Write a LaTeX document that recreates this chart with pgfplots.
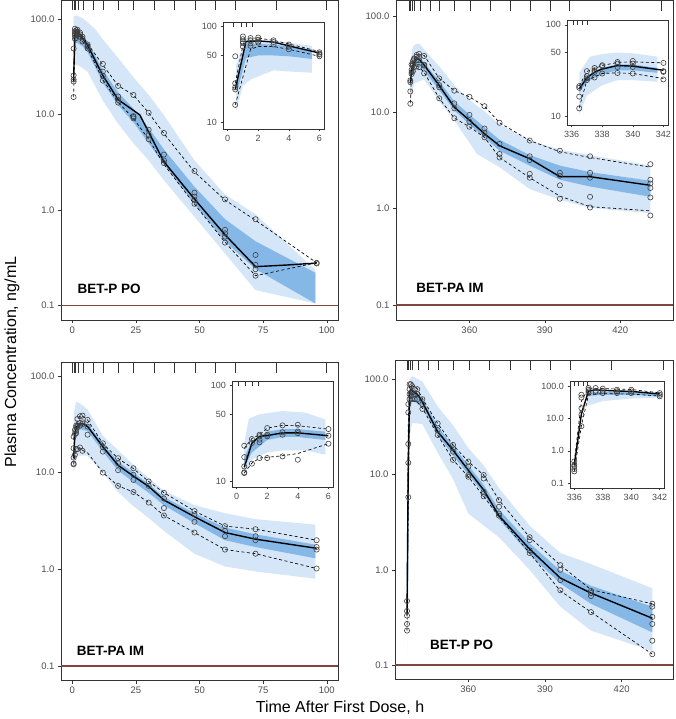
\documentclass[border=0pt]{standalone}
\usepackage{pgfplots}
\pgfplotsset{compat=1.18}
\usepackage{fontspec}
\setmainfont{Liberation Sans}

\definecolor{pilight}{RGB}{212,230,247}
\definecolor{pidark}{RGB}{134,184,231}
\definecolor{lloqc}{RGB}{125,70,62}
\definecolor{frm}{RGB}{51,51,51}
\definecolor{tlab}{RGB}{77,77,77}

\pgfplotsset{
  vpcbase/.style={
    scale only axis, anchor=south west,
    tick pos=left, tick align=outside, major tick length=3pt,
    xminorticks=false, yminorticks=false,
    axis line style={draw=frm, line width=0.7pt},
    tick style={draw=frm, line width=0.6pt},
    axis background/.style={fill=white},
  },
  mainp/.style={vpcbase,
    ytick={0.1,1,10,100}, yticklabels={0.1,1.0,10.0,100.0},
    tick label style={font=\fontsize{9.5}{11}\selectfont, text=tlab}},
  leftp/.style={mainp, xmin=-4.45, xmax=104.4,
    xtick={0,25,50,75,100}, xticklabels={0,25,50,75,100}},
  rightp/.style={mainp, xtick={360,390,420}, xticklabels={360,390,420}},
  insetp/.style={vpcbase, major tick length=2.5pt,
    tick label style={font=\fontsize{9}{10}\selectfont, text=tlab}},
  band1/.style={fill=pilight, draw=none},
  band2/.style={fill=pidark, draw=none},
  med/.style={draw=black, line width=1.4pt},
  pct/.style={draw=black, line width=0.65pt, dash pattern=on 3pt off 2.5pt},
  obs/.style={only marks, mark=o, mark size=2.6pt,
    mark options={draw=black!75, line width=0.6pt}},
  rug/.style={only marks, mark=|, mark size=5pt,
    mark options={draw=frm, line width=0.7pt}},
  rugs/.style={only marks, mark=|, mark size=2.4pt,
    mark options={draw=frm, line width=0.6pt}},
  lloq/.style={draw=lloqc, line width=1.3pt},
}
\tikzset{plab/.style={anchor=base west, font=\bfseries\fontsize{13.5}{15}\selectfont}}

\begin{document}
\begin{tikzpicture}
\useasboundingbox (0,0) rectangle (676pt,719pt);

% ---------------- top left: BET-P PO, first dose
\begin{semilogyaxis}[leftp, at={(61pt,399pt)}, width=277pt, height=319.5pt,
  ymin=0.0705, ymax=156]
\addplot[band1] coordinates {(0.5,108) (2,108) (4,102) (6,92) (9,78) (12,61)
  (18,39) (24,24.5) (30,16) (36,9.8) (48,3.3) (60,1.45) (72,0.9) (95.5,0.235)
  (95.5,0.105) (72,0.145) (60,0.35) (48,0.85) (36,2.05) (30,3.3) (24,5.0)
  (18,8.0) (12,14) (6,28) (3,32) (0.5,34)};
\addplot[band2] coordinates {(0.5,75) (2,76) (4,68) (6,58) (12,29) (18,17)
  (24,11.5) (30,7.2) (36,4.3) (48,1.75) (60,0.8) (72,0.47) (95.5,0.22)
  (95.5,0.105) (72,0.24) (60,0.47) (48,1.15) (36,3.0) (30,5.0) (24,8.3)
  (18,12.5) (12,21.5) (6,45) (4,52) (2,56) (0.5,55)};
\addplot[lloq] coordinates {(-4.45,0.1) (104.4,0.1)};
\addplot[pct] coordinates {(0.5,25.6) (1,78) (2,77) (3,72) (4,66) (6,55) (12,33)
  (18,20) (24,16) (30,10.4) (36,6.3) (48,2.5) (60,1.27) (72,0.78) (96,0.28)};
\addplot[pct] coordinates {(0.5,15.2) (1,62) (1.5,63) (2,68) (3,65) (4,58) (6,49)
  (12,23) (18,13.4) (24,9.1) (30,5.5) (36,3.0) (48,1.15) (60,0.46) (72,0.205)
  (96,0.28)};
\addplot[med] coordinates {(0.5,22) (1,70) (1.5,71) (2,72) (3,69) (4,63) (6,53)
  (12,25.5) (18,14.3) (26.5,9.9) (36,3.2) (48,1.3) (60,0.55) (72,0.255)
  (84,0.265) (96,0.278)};
\addplot[obs] coordinates {
  (0.5,15.2) (0.5,22.1) (0.5,23.2) (0.5,25.6) (0.5,49)
  (1,79) (1,74) (1,70) (1,67) (1,62) (1.5,76) (1.5,72) (1.5,67) (1.5,63)
  (2,77) (2,73) (2,70) (2,68) (3,72) (3,69) (3,65) (4,65) (4,62) (4,58)
  (6,54) (6,51) (6,49) (6,52)
  (12,33.8) (12,28.1) (12,25.3) (12,22.6) (18,19.9) (18,15.4) (18,14.2) (18,13.3)
  (24,16) (24,9.6) (24,9.1) (24,9.4) (30,10.4) (30,6.9) (30,6.1) (30,5.5)
  (36,6.4) (36,3.8) (36,3.3) (36,3.1)
  (48,2.56) (48,1.52) (48,1.38) (48,1.27) (48,1.16)
  (60,1.29) (60,0.62) (60,0.57) (60,0.525) (60,0.455)
  (72,0.8) (72,0.338) (72,0.266) (72,0.24) (72,0.205) (96,0.28) (96,0.275)};
\addplot[rug] coordinates {(0.2,138.3) (0.7,138.3) (1.2,138.3) (2.4,138.3)
  (4.3,138.3) (8.3,138.3) (12.2,138.3) (18.1,138.3) (24,138.3) (32.2,138.3)
  (40.1,138.3) (48.2,138.3) (56.1,138.3) (64,138.3) (80.1,138.3) (99.9,138.3)};
\node[plab] at (axis cs:0.7,0.134) {BET-P PO};
\end{semilogyaxis}

\begin{semilogyaxis}[insetp, at={(223pt,590pt)}, width=101pt, height=107pt,
  xmin=-0.3, xmax=6.3, ymin=8.5, ymax=112,
  xtick={0,2,4,6}, xticklabels={0,2,4,6}, ytick={10,50,100}, yticklabels={10,50,100}]
\addplot[band1] coordinates {(0.55,40) (1.2,75) (2,73) (3,71) (4,68) (5.5,63)
  (5.5,33) (4,34) (3,35) (1.5,28) (1,24) (0.55,13)};
\addplot[band2] coordinates {(0.6,30) (1.2,66) (2,66) (3,65) (4,62) (5.5,58)
  (5.5,46) (4,49) (3,50) (2,50) (1.2,47) (0.6,20)};
\addplot[pct] coordinates {(0.5,25.6) (1.1,76) (2,76) (3,72) (4,66) (6,55)};
\addplot[pct] coordinates {(0.5,15.2) (1.5,58) (2,62) (3,62) (4,58) (6,49)};
\addplot[med] coordinates {(0.5,22) (1.2,70) (2,71) (3,69) (4,63) (6,53)};
\addplot[obs] coordinates {
  (0.5,15.2) (0.5,22.1) (0.5,23.2) (0.5,25.6) (0.5,49)
  (1,79) (1,74) (1,70) (1,67) (1,62) (1.5,76) (1.5,72) (1.5,67) (1.5,63)
  (2,77) (2,73) (2,70) (2,68) (3,72) (3,69) (3,65) (4,65) (4,62) (4,58)
  (6,54) (6,51) (6,49) (6,52)};
\addplot[rugs] coordinates {(0.35,105.7) (0.9,105.7) (1.2,105.7) (1.6,105.7)};
\end{semilogyaxis}

% ---------------- top right: BET-PA IM, second dose
\begin{semilogyaxis}[rightp, at={(396pt,399pt)}, width=277pt, height=319.5pt,
  xmin=330.8, xmax=441, ymin=0.07, ymax=145]
\addplot[band1] coordinates {(336.5,30) (337.2,45) (338,50) (340,52) (342,45)
  (348,30) (354,19.2) (360,13.4) (366,10.2) (372,7.5) (384,5.1) (396,4.1)
  (408,3.6) (432,2.8) (432,0.9) (408,1.02) (396,1.24) (384,1.6) (372,2.7)
  (363,3.7) (354,8.3) (348,13) (342,22) (338,20) (337,15) (336.5,10.5)};
\addplot[band2] coordinates {(336.5,22) (337,28) (338,34) (339,37) (340,37)
  (342,33) (348,21) (354,13) (360,9.5) (366,7) (372,5.2) (384,3.6) (396,2.8)
  (408,2.4) (432,1.95) (432,1.33) (408,1.7) (396,2.0) (384,2.8) (372,4.0)
  (366,5.5) (360,7.5) (354,10.5) (348,17) (342,27) (340,31) (339,31) (338,29)
  (337,24) (336.5,18)};
\addplot[lloq] coordinates {(330.8,0.1) (441,0.1)};
\addplot[pct] coordinates {(336.5,21.5) (337,31) (337.5,33.5) (338,36) (339,39)
  (340,39.5) (342,39) (348,22.5) (354,16.8) (360,14.5) (366,11.6) (372,7.8)
  (384,5.1) (396,3.9) (408,3.4) (432,2.7)};
\addplot[pct] coordinates {(336.5,12.5) (337,25) (337.5,27) (338,29.5) (339,30)
  (340,29.5) (342,26) (348,14) (354,8.7) (360,7.1) (366,5.5) (372,3.4)
  (384,2.1) (396,1.35) (408,1.05) (432,0.95)};
\addplot[med] coordinates {(336.5,20) (337,26.5) (337.5,30.5) (338,33) (339,36)
  (340,35.5) (342,31) (348,19) (354,11.3) (360,8.3) (366,6.0) (372,4.5)
  (384,3.3) (396,2.15) (408,2.15) (432,1.75)};
\addplot[obs] coordinates {
  (336.5,21.5) (336.5,20.6) (336.5,16.5) (336.5,12.3)
  (337,31.3) (337,27.6) (337,26.1) (337,25)
  (337.5,33.9) (337.5,32) (337.5,30.7) (337.5,26.7)
  (338,36.3) (338,35.4) (338,29.5)
  (339,39.4) (339,37.8) (339,34.8) (339,29.9)
  (340,40.4) (340,37.8) (340,34.8) (340,29.5)
  (342,38.5) (342,31.3) (342,30.7) (342,25.4)
  (348,22.5) (348,19.2) (348,18.2) (348,14)
  (354,16.8) (354,12.4) (354,11) (354,8.7)
  (360,14.5) (360,9.4) (360,8) (360,7.1)
  (366,11.6) (366,6.8) (366,6.1) (366,5.5)
  (372,7.8) (372,4.7) (372,3.7) (372,3.4)
  (384,5.1) (384,3.5) (384,3.2) (384,2.3) (384,2.1)
  (396,4) (396,2.36) (396,2.2) (396,1.75) (396,1.27)
  (408,3.5) (408,2.36) (408,2.1) (408,1.33) (408,1.03)
  (432,2.9) (432,2.0) (432,1.83) (432,1.64) (432,1.31) (432,0.85)};
\addplot[rug] coordinates {(336,128.5) (336.7,128.5) (337.4,128.5) (338.1,128.5)
  (340.3,128.5) (344.3,128.5) (348.2,128.5) (354.2,128.5) (360.3,128.5)
  (368.3,128.5) (376.3,128.5) (384.2,128.5) (392.1,128.5) (399.9,128.5)
  (415.9,128.5) (436.4,128.5)};
\node[plab] at (axis cs:337.5,0.134) {BET-PA IM};
\end{semilogyaxis}

\begin{semilogyaxis}[insetp, at={(567pt,594pt)}, width=101pt, height=105pt,
  xmin=335.7, xmax=342.3, ymin=8.1, ymax=113,
  xtick={336,338,340,342}, xticklabels={336,338,340,342},
  ytick={10,50,100}, yticklabels={10,50,100}]
\addplot[band1] coordinates {(336.5,30) (337.2,45) (338,48) (339,50) (340,49)
  (341.6,45) (341.6,24) (340,25) (339,25) (338,22) (337,17) (336.5,10.5)};
\addplot[band2] coordinates {(336.5,22) (337,28) (338,34) (339,37) (340,37)
  (341.6,34) (341.6,30) (340,32) (339,32) (338,29) (337,24) (336.5,18)};
\addplot[pct] coordinates {(336.5,21.5) (337,31) (337.5,33.5) (338,36) (339,39)
  (340,39.5) (342,38.5)};
\addplot[pct] coordinates {(336.5,12.5) (337,25) (337.5,27) (338,29.5) (339,30)
  (340,29.5) (342,26)};
\addplot[med] coordinates {(336.5,20) (337,26.5) (337.5,30.5) (338,33) (339,36)
  (340,35.5) (342,32)};
\addplot[obs] coordinates {
  (336.5,21.5) (336.5,20.6) (336.5,16.5) (336.5,12.3)
  (337,31.3) (337,27.6) (337,26.1) (337,25)
  (337.5,33.9) (337.5,32) (337.5,30.7) (337.5,26.7)
  (338,36.3) (338,35.4) (338,29.5)
  (339,39.4) (339,37.8) (339,34.8) (339,29.9)
  (340,40.4) (340,37.8) (340,34.8) (340,29.5)
  (342,38.5) (342,31.3) (342,30.7) (342,25.4)};
\addplot[rugs] coordinates {(336.1,106.4) (336.4,106.4) (336.7,106.4) (337,106.4)};
\end{semilogyaxis}

% ---------------- bottom left: BET-PA IM, first dose
\begin{semilogyaxis}[leftp, at={(61pt,38.3pt)}, width=277pt, height=318pt,
  ymin=0.0705, ymax=137]
\addplot[band1] coordinates {(0.5,40) (1.5,54) (3,52) (6,45) (12,24) (18,17)
  (24,12) (30,8.8) (36,6.5) (48,4.6) (60,3.8) (72,3.3) (95.5,2.9)
  (95.5,0.8) (72,0.95) (60,1.07) (48,1.45) (36,2.5) (30,3.4) (24,4.5)
  (18,6.3) (12,10) (6,15) (2,15) (0.5,10)};
\addplot[band2] coordinates {(0.5,16) (1,26) (2,32) (3,33) (6,32) (12,20) (18,13)
  (24,10) (30,7.6) (36,5.6) (48,3.8) (60,2.7) (72,2.3) (95.5,1.8)
  (95.5,1.3) (72,1.7) (60,2.0) (48,3.0) (36,4.6) (30,6.2) (24,8) (18,10.5)
  (12,16.5) (6,27) (3,28) (2,27) (1,20) (0.5,12)};
\addplot[lloq] coordinates {(-4.45,0.1) (104.4,0.1)};
\addplot[pct] coordinates {(0.5,22) (1,28) (1.5,30.5) (2,35.9) (3,38.3) (4,38.5)
  (6,35) (12,20) (18,14) (24,11) (30,8.1) (36,6.2) (48,4.0) (60,2.8) (72,2.6)
  (96,2.0)};
\addplot[pct] coordinates {(0.5,12.2) (1,15.3) (2,17.5) (3,18) (4,17) (6,16)
  (12,10) (18,7.3) (24,6.3) (30,4.9) (36,3.6) (48,2.4) (60,1.6) (72,1.45)
  (96,1.02)};
\addplot[med] coordinates {(0.5,14) (1,25) (1.5,29.5) (2,30) (3,32) (4,32) (6,30)
  (12,18.5) (18,11.9) (24,9.2) (30,7.2) (36,5.2) (48,3.5) (60,2.4) (72,2.05)
  (96,1.65)};
\addplot[obs] coordinates {
  (0.5,14.3) (0.5,12.2) (0.5,12.4) (0.5,17.9) (0.5,23.5)
  (1,27.6) (1,25.1) (1,15.3)
  (1.5,30.6) (1.5,29.5) (1.5,27.2) (1.5,25.5) (1.5,17.5)
  (2,35.9) (2,30.6) (2,29.5) (2,17.5)
  (3,38.3) (3,32.5) (3,30.6) (3,18.2)
  (4,38.9) (4,33.1) (4,31.8) (4,16.8)
  (6,35.1) (6,29.9) (6,24.7)
  (12,20.1) (12,18.3) (12,16.5) (12,10) (18,14.1) (18,12.5) (18,10.6) (18,7.3)
  (24,11.1) (24,9.5) (24,8.4) (24,6.3) (30,8.1) (30,7.3) (30,4.9)
  (36,6.2) (36,5.4) (36,4.3) (36,3.6) (48,4) (48,3.7) (48,3.1) (48,2.4)
  (60,2.8) (60,2.5) (60,2.2) (60,1.6) (72,2.6) (72,2.2) (72,2) (72,1.45)
  (96,2) (96,1.7) (96,1.6) (96,1.02)};
\addplot[rug] coordinates {(0.2,121.5) (0.7,121.5) (1.2,121.5) (2.4,121.5)
  (4.3,121.5) (8.3,121.5) (12.2,121.5) (18.1,121.5) (24,121.5) (32.2,121.5)
  (40.1,121.5) (48.2,121.5) (56.1,121.5) (64,121.5) (80.1,121.5) (99.9,121.5)};
\node[plab] at (axis cs:0.4,0.127) {BET-PA IM};
\end{semilogyaxis}

\begin{semilogyaxis}[insetp, at={(232pt,232pt)}, width=101pt, height=105.6pt,
  xmin=-0.3, xmax=6.3, ymin=8.74, ymax=110,
  xtick={0,2,4,6}, xticklabels={0,2,4,6}, ytick={10,50,100}, yticklabels={10,50,100}]
\addplot[band1] coordinates {(0.5,25) (0.8,45) (1.5,50) (3,54) (4.5,52) (5.8,44)
  (5.8,19) (4.5,21) (3,21) (2,20) (1,17) (0.5,12)};
\addplot[band2] coordinates {(0.5,18) (1,26) (2,33) (3,35) (4,35) (5.8,33)
  (5.8,27) (4,29) (3,29) (2,27) (1,20) (0.5,14)};
\addplot[pct] coordinates {(0.5,22) (1,28) (1.5,30.5) (2,35.9) (3,38.3) (4,38) (6,35)};
\addplot[pct] coordinates {(0.5,12.2) (1,15.5) (1.5,17.5) (2,17.8) (3,18.5) (4,19.5)
  (6,24.7)};
\addplot[med] coordinates {(0.5,14) (1,25) (1.5,29.5) (2,30) (3,32) (4,32) (6,29.9)};
\addplot[obs] coordinates {
  (0.5,14.3) (0.5,12.2) (0.5,12.4) (0.5,17.9) (0.5,23.5)
  (1,27.6) (1,25.1) (1,15.3)
  (1.5,30.6) (1.5,29.5) (1.5,27.2) (1.5,25.5) (1.5,17.5)
  (2,35.9) (2,30.6) (2,29.5) (2,17.5)
  (3,38.3) (3,32.5) (3,30.6) (3,18.2)
  (4,38.9) (4,33.1) (4,31.8) (4,16.8)
  (6,35.1) (6,29.9) (6,24.7)};
\addplot[rugs] coordinates {(0.1,103.8) (0.6,103.8) (1.0,103.8) (1.4,103.8)};
\end{semilogyaxis}

% ---------------- bottom right: BET-P PO, second dose
\begin{semilogyaxis}[rightp, at={(395pt,39.7pt)}, width=278pt, height=319.3pt,
  xmin=331.3, xmax=440.1, ymin=0.0708, ymax=160]
\addplot[band1] coordinates {(336.2,2) (336.6,60) (337,100) (338,108) (342,95)
  (348,52) (354,33) (360,19) (366,12.5) (372,7.2) (384,2.9) (396,1.5)
  (408,1.15) (432,0.64) (432,0.14) (408,0.23) (396,0.41) (384,1.0) (372,2.2)
  (360,3.9) (354,9) (348,17) (342,34) (338,35) (337,25) (336.6,2) (336.2,0.13)};
\addplot[band2] coordinates {(336.3,0.45) (336.8,40) (337.2,85) (338,82) (342,63)
  (348,32) (354,20) (360,12.5) (366,7.8) (372,4.3) (384,1.9) (396,0.98)
  (408,0.68) (432,0.41) (432,0.22) (408,0.44) (396,0.72) (384,1.45) (372,3.4)
  (366,6.3) (360,10) (354,16) (348,26) (342,52) (338,60) (337.2,50)
  (336.8,10) (336.3,0.25)};
\addplot[lloq] coordinates {(331.3,0.1) (440.1,0.1)};
\addplot[pct] coordinates {(336,0.45) (336.5,35) (337,88) (338,86) (340,80)
  (342,63) (348,34.5) (354,20.5) (360,13.7) (366,9.9) (372,5.4) (384,2.2)
  (396,1.12) (408,0.62) (432,0.44)};
\addplot[pct] coordinates {(336,0.23) (336.5,6) (337,55) (338,60) (340,58)
  (342,50) (348,26) (354,14.3) (360,9.5) (366,5.9) (372,3.6) (384,1.5)
  (396,0.6) (408,0.36) (432,0.13)};
\addplot[med] coordinates {(336,0.33) (336.5,14) (337,72) (337.5,78) (338,76)
  (339,72) (340,70) (342,58) (348,28.2) (354,18.1) (360,11.1) (366,6.9)
  (372,3.7) (384,1.65) (396,0.82) (408,0.57) (432,0.31)};
\addplot[obs] coordinates {
  (336,0.47) (336,0.37) (336,0.33) (336,0.27) (336,0.23)
  (336.5,55) (336.5,45) (336.5,21) (336.5,13.3) (336.5,5.8)
  (337,89) (337,79) (337,70) (337,62) (337.5,89) (337.5,73) (337.5,67)
  (338,85) (338,73) (338,62) (339,79) (339,70) (339,62)
  (340,79) (340,70) (340,62) (342,62) (342,55) (342,49)
  (348,34.5) (348,29.4) (348,26.1) (354,20.5) (354,18.9) (354,17.4) (354,14.3)
  (360,13.7) (360,12.1) (360,9.9) (360,9.5)
  (366,9.9) (366,9.1) (366,6.6) (366,6.3) (366,5.9)
  (372,5.4) (372,4.6) (372,3.9) (372,3.7)
  (384,2.2) (384,2.05) (384,1.6) (384,1.5)
  (396,1.12) (396,1.0) (396,0.78) (396,0.61)
  (408,0.6) (408,0.57) (408,0.53) (408,0.36)
  (432,0.44) (432,0.41) (432,0.32) (432,0.27) (432,0.18) (432,0.13)};
\addplot[rug] coordinates {(336,141.8) (336.7,141.8) (337.4,141.8) (338.1,141.8)
  (340.3,141.8) (344.3,141.8) (348.2,141.8) (354.2,141.8) (360.3,141.8)
  (368.3,141.8) (376.3,141.8) (384.2,141.8) (392.1,141.8) (399.9,141.8)
  (415.9,141.8) (436.4,141.8)};
\node[plab] at (axis cs:343.7,0.144) {BET-P PO};
\end{semilogyaxis}

\begin{semilogyaxis}[insetp, at={(570pt,231pt)}, width=94pt, height=106.6pt,
  xmin=335.7, xmax=342.3, ymin=0.07, ymax=143,
  xtick={336,338,340,342}, xticklabels={336,338,340,342},
  ytick={0.1,1,10,100}, yticklabels={0.1,1.0,10.0,100.0}]
\addplot[band1] coordinates {(336.9,70) (338,72) (340,72) (342,66)
  (342,45) (340,42) (338,35) (336.9,25)};
\addplot[band2] coordinates {(336.9,65) (338,66) (340,66) (342,60)
  (342,50) (340,54) (338,55) (336.9,50)};
\addplot[pct] coordinates {(336,0.45) (336.5,35) (337,88) (338,86) (340,80) (342,63)};
\addplot[pct] coordinates {(336,0.23) (336.5,6) (337,55) (338,60) (340,58) (342,50)};
\addplot[med] coordinates {(336,0.35) (336.5,14) (337,72) (337.5,78) (338,76)
  (339,72) (340,70) (342,58)};
\addplot[obs] coordinates {
  (336,0.47) (336,0.37) (336,0.33) (336,0.27) (336,0.23)
  (336.5,55) (336.5,45) (336.5,21) (336.5,13.3) (336.5,5.8)
  (337,89) (337,79) (337,70) (337,62) (337.5,89) (337.5,73) (337.5,67)
  (338,85) (338,73) (338,62) (339,79) (339,70) (339,62)
  (340,79) (340,70) (340,62) (342,62) (342,55) (342,49)};
\addplot[rugs] coordinates {(336,120.5) (336.3,120.5) (336.6,120.5) (336.9,120.5)};
\end{semilogyaxis}

% axis titles shared by the four panels
\node[rotate=90, font=\fontsize{16}{19}\selectfont] at (12pt,357pt)
  {Plasma Concentration, ng/mL};
\node[font=\fontsize{16}{19}\selectfont] at (340pt,11pt)
  {Time After First Dose, h};
\end{tikzpicture}
\end{document}
